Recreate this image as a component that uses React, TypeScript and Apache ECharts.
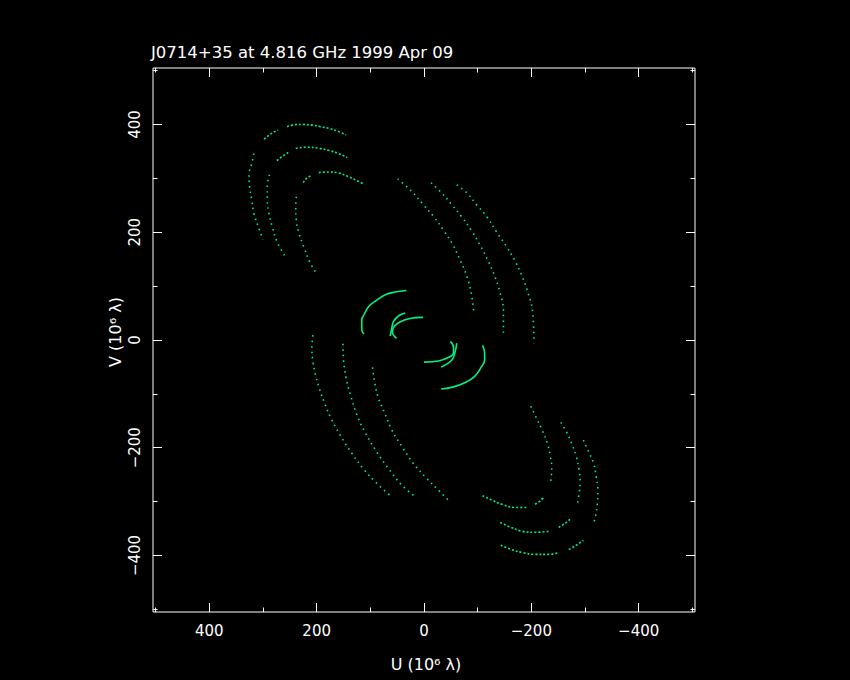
import React, { useEffect, useRef } from "react";
import * as echarts from "echarts";

const titleText = "J0714+35 at 4.816 GHz 1999 Apr 09";
const uTitle = "U (10⁶ λ)";
const vTitle = "V (10⁶ λ)";
const majorTicks = [-400, -200, 0, 200, 400];
const minorTicks = [-500, -300, -100, 100, 300, 500];
const axisMin = -505;
const axisMax = 505;

// ---- upper-left tracks (U, V in 10^6 wavelengths) ----
const outerTopA = [[298, 373], [289, 380], [280, 386], [272, 390]];
const outerTopB = [[255, 396], [239, 400], [224, 400], [208, 399], [193, 396], [177, 393], [162, 388], [145, 381]];
const outerLeft = [[317, 346], [321, 328], [326, 307], [325, 285], [321, 260], [317, 235], [309, 211], [300, 186]];
const middleTopA = [[274, 333], [264, 341], [253, 348]];
const middleTopB = [[239, 356], [218, 358], [196, 356], [177, 352], [159, 346], [143, 339]];
const middleLeft = [[288, 307], [292, 285], [292, 260], [289, 235], [283, 211], [274, 183], [258, 154]];
const innerTopA = [[225, 292], [218, 301], [208, 306]];
const innerTopB = [[196, 311], [177, 312], [159, 310], [140, 303], [125, 296], [111, 289]];
const innerLeft = [[238, 266], [239, 248], [238, 223], [233, 198], [224, 173], [213, 145], [201, 124]];

// ---- upper-right diagonal tracks ----
const diagA = [[49, 299], [23, 276], [1, 251], [-18, 229], [-36, 204], [-52, 180], [-67, 149], [-80, 118], [-88, 87], [-93, 51]];
const diagB = [[-13, 292], [-33, 273], [-52, 251], [-70, 229], [-88, 204], [-104, 177], [-120, 146], [-132, 118], [-142, 87], [-148, 56], [-148, 9]];
const diagC = [[-61, 288], [-80, 273], [-98, 251], [-117, 229], [-135, 201], [-154, 173], [-170, 146], [-183, 118], [-194, 87], [-202, 56], [-205, -6]];

// ---- central short tracks ----
const centralA = [[112, 11], [116, 19], [116, 38], [114, 43], [103, 62], [88, 74], [72, 84], [54, 89], [33, 92]];
const centralB = [[35, 50], [47, 45], [57, 34], [60, 22], [63, 7]];
const centralC = [[2, 42], [26, 40], [44, 34], [55, 26], [59, 15], [51, 3]];
const centralD = [[-49, -3], [-55, -13], [-55, -24], [-46, -32], [-27, -39], [0, -41]];
const centralE = [[-61, -6], [-58, -22], [-52, -37], [-32, -50]];
const centralF = [[-109, -10], [-113, -24], [-113, -37], [-107, -50], [-95, -67], [-77, -79], [-55, -87], [-32, -91]];

// ---- lower-left diagonal tracks ----
const lowA = [[207, 9], [209, -13], [207, -40], [202, -65], [195, -90], [185, -118], [173, -146], [156, -177], [134, -211], [113, -239], [88, -266], [64, -288]];
const lowB = [[151, -7], [150, -37], [145, -71], [137, -102], [125, -139], [109, -173], [88, -208], [66, -239], [41, -270], [15, -292]];
const lowC = [[96, -51], [92, -78], [85, -108], [73, -136], [60, -167], [41, -198], [20, -229], [-5, -257], [-30, -282], [-47, -299]];

// ---- lower-right tracks ----
const rightInner = [[-199, -123], [-210, -146], [-220, -167], [-230, -192], [-235, -214], [-238, -236], [-236, -265]];
const rightMiddle = [[-255, -153], [-265, -170], [-275, -192], [-284, -217], [-289, -242], [-291, -266], [-289, -285], [-286, -304]];
const rightOuter = [[-297, -186], [-307, -208], [-316, -229], [-321, -254], [-324, -279], [-323, -304], [-320, -325], [-315, -344]];
const bottomInnerA = [[-109, -289], [-126, -297], [-145, -305], [-170, -311], [-193, -311]];
const bottomInnerB = [[-207, -305], [-216, -299], [-223, -292]];
const bottomMiddleA = [[-142, -339], [-160, -347], [-182, -355], [-207, -357], [-236, -355]];
const bottomMiddleB = [[-251, -348], [-262, -341], [-272, -333]];
const bottomOuterA = [[-143, -381], [-163, -389], [-185, -395], [-207, -398], [-231, -398], [-251, -395]];
const bottomOuterB = [[-270, -389], [-282, -382], [-297, -372]];

const GREEN = "#00f282";
const SPARSE: number[] = [1.5, 4];
const DENSE: number[] = [2, 2];

const trackList: { data: number[][]; dash: number[] | "solid" }[] = [
  { data: outerTopA, dash: DENSE },
  { data: outerTopB, dash: DENSE },
  { data: outerLeft, dash: SPARSE },
  { data: middleTopA, dash: DENSE },
  { data: middleTopB, dash: DENSE },
  { data: middleLeft, dash: SPARSE },
  { data: innerTopA, dash: DENSE },
  { data: innerTopB, dash: DENSE },
  { data: innerLeft, dash: SPARSE },
  { data: diagA, dash: SPARSE },
  { data: diagB, dash: SPARSE },
  { data: diagC, dash: SPARSE },
  { data: centralA, dash: "solid" },
  { data: centralB, dash: "solid" },
  { data: centralC, dash: "solid" },
  { data: centralD, dash: "solid" },
  { data: centralE, dash: "solid" },
  { data: centralF, dash: "solid" },
  { data: lowA, dash: SPARSE },
  { data: lowB, dash: SPARSE },
  { data: lowC, dash: SPARSE },
  { data: rightInner, dash: SPARSE },
  { data: rightMiddle, dash: SPARSE },
  { data: rightOuter, dash: SPARSE },
  { data: bottomInnerA, dash: DENSE },
  { data: bottomInnerB, dash: DENSE },
  { data: bottomMiddleA, dash: DENSE },
  { data: bottomMiddleB, dash: DENSE },
  { data: bottomOuterA, dash: DENSE },
  { data: bottomOuterB, dash: DENSE },
];

const FONT = "DejaVu Sans";
const fmt = (v: number) => (v < 0 ? "\u2212" + Math.abs(v) : String(v));

function makeAxis(kind: "x" | "y", position: string, ticks: number[], len: number, labels: boolean) {
  const base: any = {
    type: "value",
    position,
    min: axisMin,
    max: axisMax,
    inverse: kind === "x",
    axisLine: { show: false, onZero: false },
    splitLine: { show: false },
    axisTick: {
      show: true,
      inside: true,
      length: len,
      customValues: ticks,
      lineStyle: { color: "#ffffff", width: 1 },
    },
    axisLabel: labels
      ? {
          show: true,
          customValues: ticks,
          formatter: fmt,
          color: "#ffffff",
          fontFamily: FONT,
          fontSize: 15,
          margin: 11,
          rotate: kind === "y" ? 90 : 0,
        }
      : { show: false },
  };
  return base;
}

export default function App() {
  const ref = useRef<HTMLDivElement>(null);
  useEffect(() => {
    if (!ref.current) return;
    const chart = echarts.init(ref.current, undefined, { renderer: "svg" });
    const option: any = {
      animation: false,
      backgroundColor: "#000000",
      grid: {
        left: 153,
        right: 155,
        top: 68,
        bottom: 68,
        show: true,
        borderColor: "#ffffff",
        borderWidth: 1,
        backgroundColor: "transparent",
      },
      xAxis: [
        makeAxis("x", "bottom", majorTicks, 9, true),
        makeAxis("x", "bottom", minorTicks, 4.5, false),
        makeAxis("x", "top", majorTicks, 9, false),
        makeAxis("x", "top", minorTicks, 4.5, false),
      ],
      yAxis: [
        makeAxis("y", "left", majorTicks, 9, true),
        makeAxis("y", "left", minorTicks, 4.5, false),
        makeAxis("y", "right", majorTicks, 9, false),
        makeAxis("y", "right", minorTicks, 4.5, false),
      ],
      graphic: [
        {
          type: "text",
          x: 151,
          y: 52,
          style: {
            text: titleText,
            fill: "#ffffff",
            font: `16.5px "${FONT}"`,
            textAlign: "left",
            align: "left",
            textVerticalAlign: "middle",
            verticalAlign: "middle",
          },
        },
        {
          type: "text",
          x: 426,
          y: 664,
          style: {
            text: uTitle,
            fill: "#ffffff",
            font: `16px "${FONT}"`,
            textAlign: "center",
            align: "center",
            textVerticalAlign: "middle",
            verticalAlign: "middle",
          },
        },
        {
          type: "text",
          x: 115,
          y: 332,
          rotation: Math.PI / 2,
          style: {
            text: vTitle,
            fill: "#ffffff",
            font: `16px "${FONT}"`,
            textAlign: "center",
            align: "center",
            textVerticalAlign: "middle",
            verticalAlign: "middle",
          },
        },
      ],
      series: trackList.map((t) => ({
        type: "line",
        xAxisIndex: 0,
        yAxisIndex: 0,
        data: t.data,
        showSymbol: false,
        symbol: "none",
        smooth: 0.4,
        silent: true,
        lineStyle: { color: GREEN, width: 1.6, type: t.dash },
      })),
    };
    chart.setOption(option);
    return () => chart.dispose();
  }, []);
  return (
    <div
      ref={ref}
      style={{ position: "fixed", left: 0, top: 0, width: 850, height: 680, background: "#000" }}
    />
  );
}
